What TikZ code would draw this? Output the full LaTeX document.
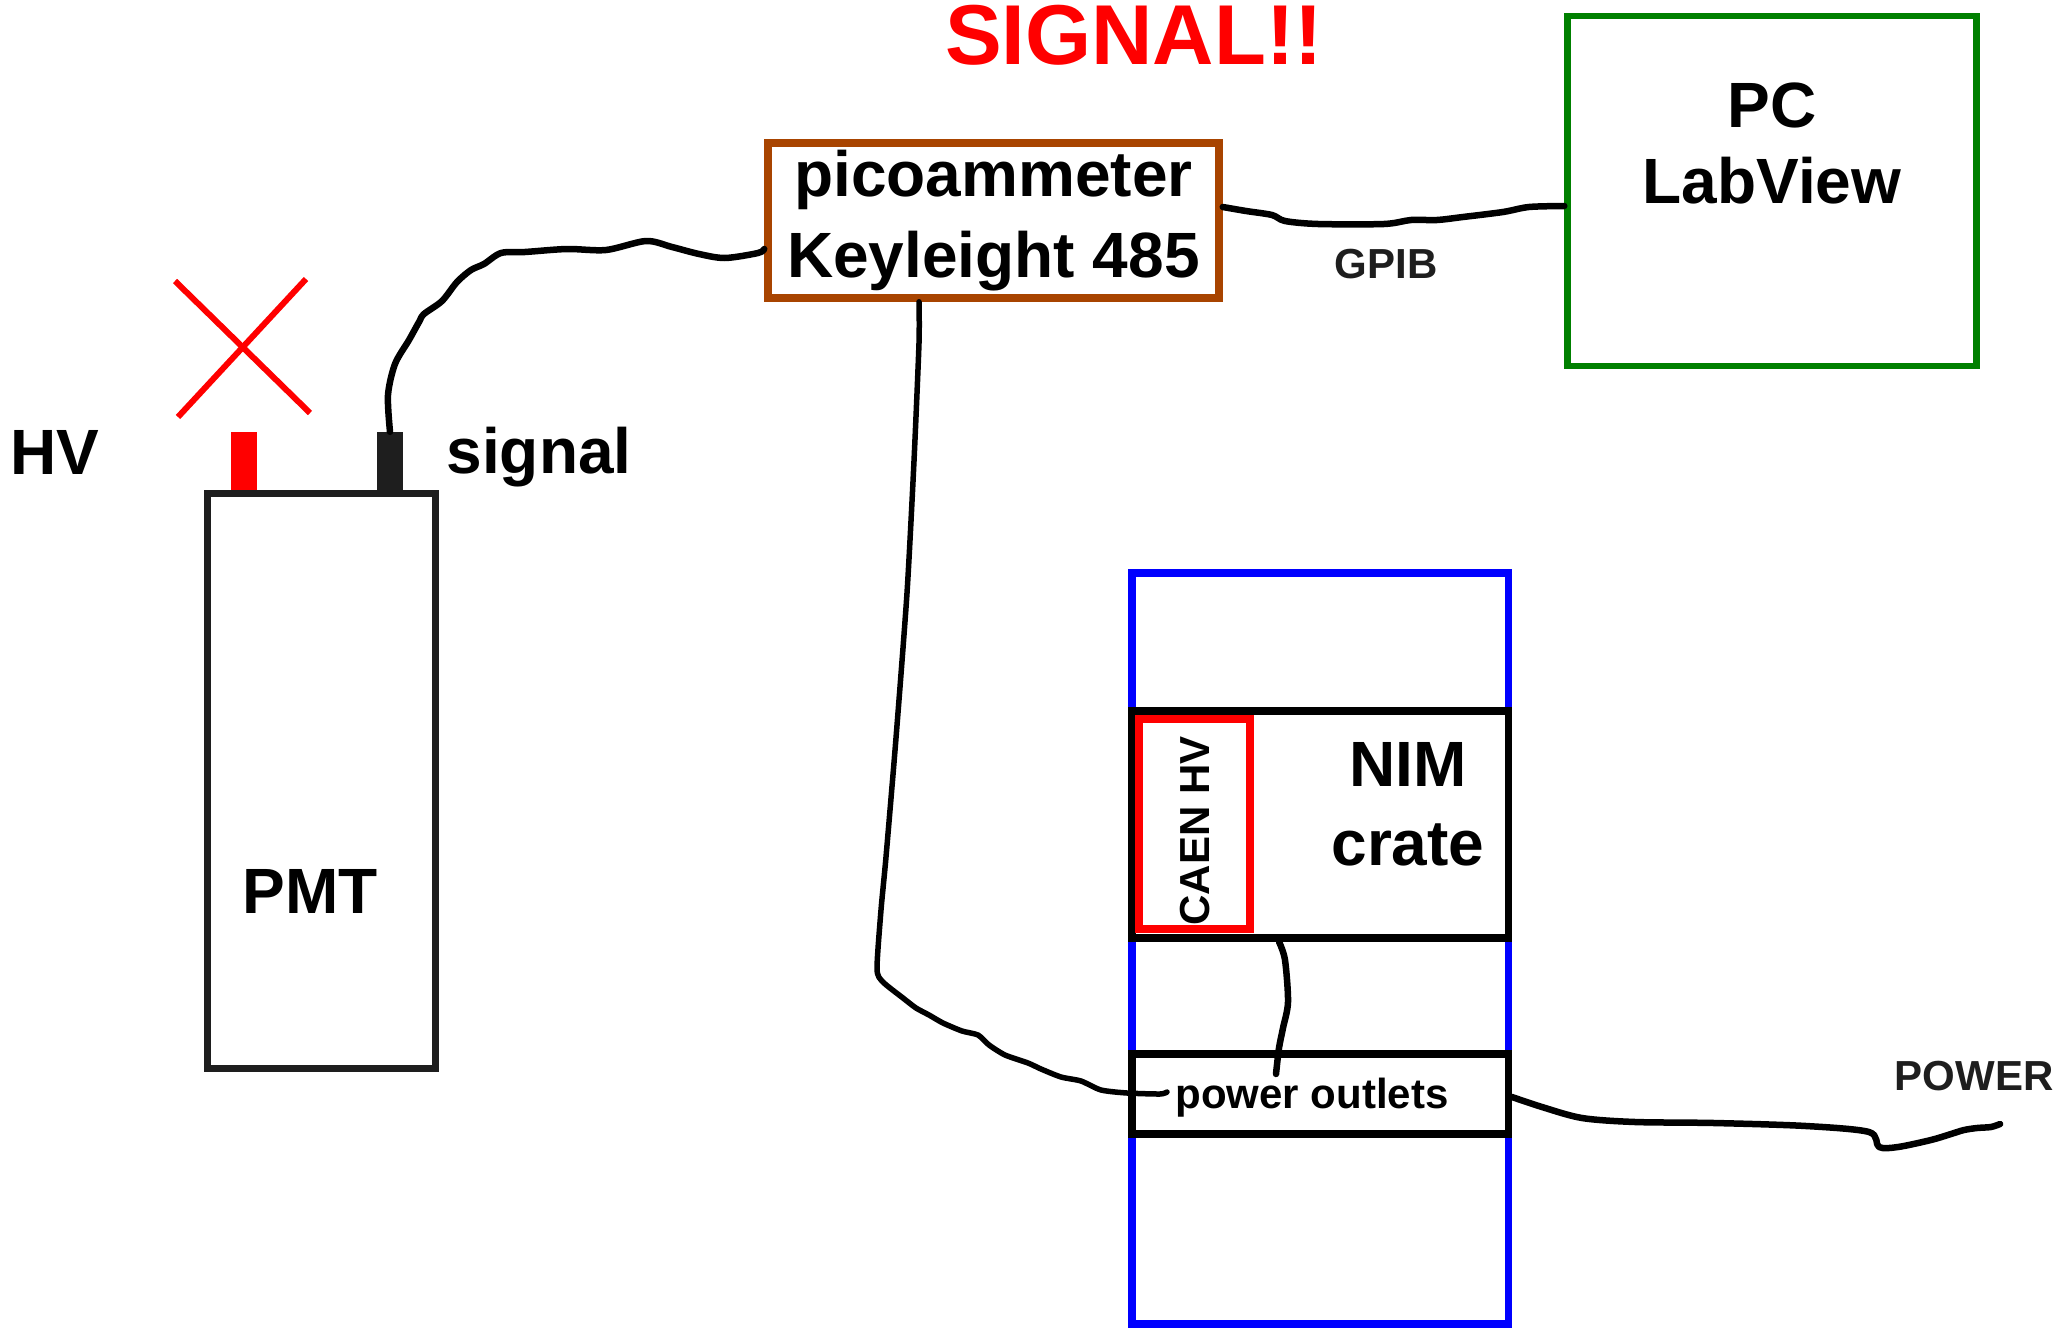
\documentclass[tikz,border=0pt]{standalone}
\usepackage{fontspec}
\setmainfont{Liberation Sans}
\usetikzlibrary{calc}
\definecolor{brownc}{RGB}{168,68,0}
\definecolor{greenc}{RGB}{0,128,0}
\definecolor{bluec}{RGB}{0,0,255}
\definecolor{redc}{RGB}{255,0,0}
\definecolor{darkc}{RGB}{30,30,30}
\begin{document}
\begin{tikzpicture}[x=1pt,y=-1pt,
  box/.style={draw, rectangle, inner sep=0pt, fill=white, line width=7.5pt},
  big/.style={font=\fontsize{64}{80}\selectfont\bfseries, align=center, inner sep=0pt},
  small/.style={font=\fontsize{42}{50}\selectfont\bfseries, inner sep=0pt},
  cable/.style={draw=black, line width=6.5pt, line cap=round, line join=round},
  xline/.style={draw=redc, line width=6pt},
]
\fill[white] (0,0) rectangle (2067,1335);
\useasboundingbox (0,0) rectangle (2067,1335);

% title
\node[font=\fontsize{85}{90}\selectfont\bfseries, text=redc, inner sep=0pt] (title) at (1134,35) {SIGNAL!!};

% PMT
\node[box, draw=darkc, minimum width=228pt, minimum height=575pt] (pmt) at (321.5,781) {};
\node[big] (pmtlabel) at (310,891) {PMT};
\node[rectangle, fill=redc, inner sep=0pt, minimum width=26pt, minimum height=58pt] (hvcon) at (244,461) {};
\node[rectangle, fill=darkc, inner sep=0pt, minimum width=26pt, minimum height=58pt] (sigcon) at (390,461) {};
\node[big] (hvlabel) at (55,452) {HV};
\node[big, anchor=base] (siglabel) at (539,473) {signal};
\coordinate (x1a) at (175,281);
\coordinate (x1b) at (310,413);
\coordinate (x2a) at (306,279);
\coordinate (x2b) at (178,417);
\draw[xline] (x1a) -- (x1b);
\draw[xline] (x2a) -- (x2b);

% picoammeter
\node[box, draw=brownc, minimum width=451pt, minimum height=155pt,
      font=\fontsize{64}{81}\selectfont\bfseries, align=center] (pico) at (993.5,220.5) {picoammeter\\Keyleight 485};

% PC
\node[box, draw=greenc, line width=6.5pt, minimum width=409pt, minimum height=350pt] (pc) at (1772,191) {};
\node[big, font=\fontsize{64}{76}\selectfont\bfseries] (pclabel) at (1772,143.5) {PC\\LabView};
\node[small, text=darkc] (gpib) at (1386,264) {GPIB};

% rack
\node[box, draw=bluec, minimum width=376.5pt, minimum height=751pt] (rack) at (1320,948.5) {};
\node[box, minimum width=376.5pt, minimum height=227pt] (nim) at (1320,824.5) {};
\node[box, draw=redc, minimum width=111pt, minimum height=210pt] (caen) at (1194.5,824) {};
\node[font=\fontsize{42}{46}\selectfont\bfseries, inner sep=0pt, rotate=90] (caenlabel) at (1195,831) {CAEN HV};
\node[big, font=\fontsize{64}{79}\selectfont\bfseries] (nimlabel) at (1408,804) {NIM\\crate};
\node[box, minimum width=376.5pt, minimum height=80pt] (outlets) at (1320,1094) {};
\node[small, anchor=base] (outletslabel) at (1312,1108) {power outlets};
\node[small, text=darkc] (powerlabel) at (1974,1076) {POWER};

% connection points
\coordinate (picoL) at (pico.west |- 0,249);
\coordinate (picoR) at (pico.east |- 0,207);
\coordinate (pcL) at (pc.west |- 0,206);
\coordinate (picoB) at (pico.south -| 919,0);
\coordinate (nimB) at (nim.south -| 1279,0);
\coordinate (plugA) at (1167,1092);
\coordinate (plugB) at (1276,1074);
\coordinate (outR) at (outlets.east |- 0,1097);
\coordinate (mainsplug) at (2000,1124);

% cables
\draw[cable] plot[smooth, tension=0.5] coordinates {(sigcon.north) (388,395) (395,364) (409,340) (419,322) (424,314) (442,301) (457,282) (471,270) (484,264) (501,253) (525,252) (567,249) (606,250) (646,241) (672,247) (699,254) (725,258) (758,253) (picoL)};
\draw[cable] plot[smooth, tension=0.5] coordinates {(picoR) (1246,211) (1272,215) (1285,221) (1318,224) (1384,224) (1411,220) (1437,220) (1463,217) (1503,212) (1529,207) (pcL)};
\draw[cable, line width=5.5pt] plot[smooth, tension=0.4] coordinates {(picoB) (919,343) (914,461) (907,593) (896,738) (886,857) (881,910) (877,969) (883,982) (903,998) (916,1008) (929,1015) (943,1023) (962,1031) (978,1035) (989,1045) (1005,1055) (1028,1063) (1041,1069) (1061,1077) (1081,1081) (1101,1090) (1127,1093) (1160,1094) (plugA)};
\draw[cable] plot[smooth, tension=0.5] coordinates {(nimB) (1285,960) (1288,1002) (1283,1028) (1279,1048) (plugB)};
\draw[cable] plot[smooth, tension=0.5] coordinates {(outR) (1542,1107) (1582,1118) (1635,1122) (1714,1123) (1806,1126) (1869,1132) (1879,1147) (1898,1147) (1931,1140) (1951,1134) (1964,1130) (1977,1128) (1991,1127) (mainsplug)};
\end{tikzpicture}
\end{document}
